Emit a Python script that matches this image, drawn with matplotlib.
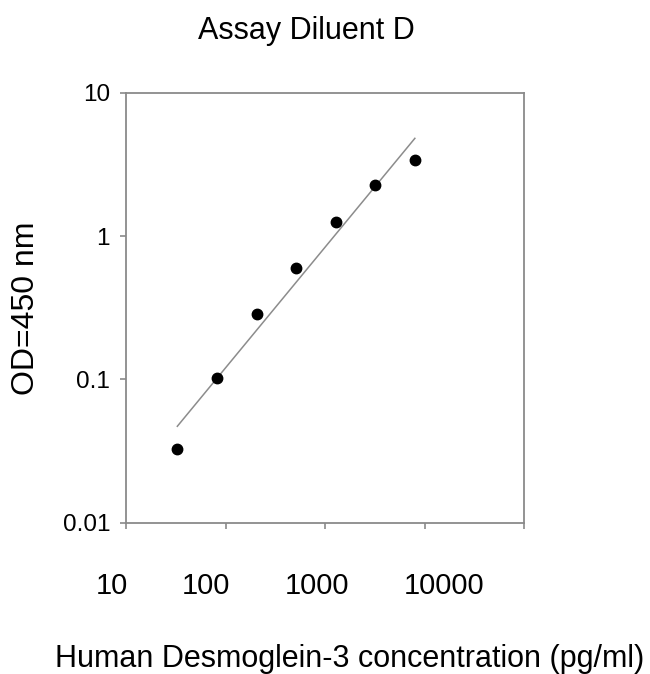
import numpy as np
import matplotlib.pyplot as plt
import matplotlib.transforms as mtransforms

plt.rcParams['font.family'] = ['Liberation Sans', 'DejaVu Sans']

# standard curve
conc = [32.8, 82, 205, 512, 1280, 3200, 8000]
od = [0.0326, 0.1025, 0.286, 0.601, 1.25, 2.27, 3.37]

x_ticks = [10, 100, 1000, 10000, 100000]
x_labels = ['10', '100', '1000', '10000', '']
y_ticks = [0.01, 0.1, 1, 10]
y_labels = ['0.01', '0.1', '1', '10']

title = 'Assay Diluent D'
x_title = 'Human Desmoglein-3 concentration (pg/ml)'
y_title = 'OD=450 nm'

W, H = 650, 674
fig = plt.figure(figsize=(W / 100, H / 100), dpi=100)
ax = fig.add_axes([126 / W, 1 - 522.7 / H, 398 / W, 430 / H])

# log-log linear fit through the points
lx = np.log10(conc)
ly = np.log10(od)
slope, icpt = np.polyfit(lx, ly, 1)
fit_x = np.array([min(conc), max(conc)])
fit_y = 10 ** (icpt + slope * np.log10(fit_x))

ax.plot(fit_x, fit_y, color='#8c8c8c', lw=1.1, zorder=2)
ax.plot(conc, od, 'o', color='black', ms=7.5, zorder=3)

ax.set_xscale('log')
ax.set_yscale('log')
ax.set_xlim(10, 100000)
ax.set_ylim(0.01, 10)
ax.minorticks_off()
ax.set_xticks(x_ticks)
ax.set_xticklabels(x_labels, fontsize=21)
ax.set_yticks(y_ticks)
ax.set_yticklabels(y_labels, fontsize=17.5)

for s in ax.spines.values():
    s.set_color('#8a8a8a')
    s.set_linewidth(1.3)
ax.tick_params(axis='both', direction='out', length=4.5, width=1.2, color='#8a8a8a')
ax.tick_params(axis='x', pad=31)
ax.tick_params(axis='y', pad=7)

# the x tick labels sit a little off their ticks in the source
shifts = [-14, -20, -8, 20, 0]
for lab, dx in zip(ax.get_xticklabels(), shifts):
    off = mtransforms.ScaledTranslation(dx / 100, 0, fig.dpi_scale_trans)
    lab.set_transform(lab.get_transform() + off)

fig.text(306 / W, 1 - 39 / H, title, fontsize=22, ha='center', va='baseline')
fig.text(350 / W, 1 - 667 / H, x_title, fontsize=22, ha='center', va='baseline')
fig.text(33.5 / W, 1 - 308 / H, y_title, fontsize=23, rotation=90,
         rotation_mode='anchor', ha='center', va='baseline')

fig.savefig('out.png', dpi=100, facecolor='white')
